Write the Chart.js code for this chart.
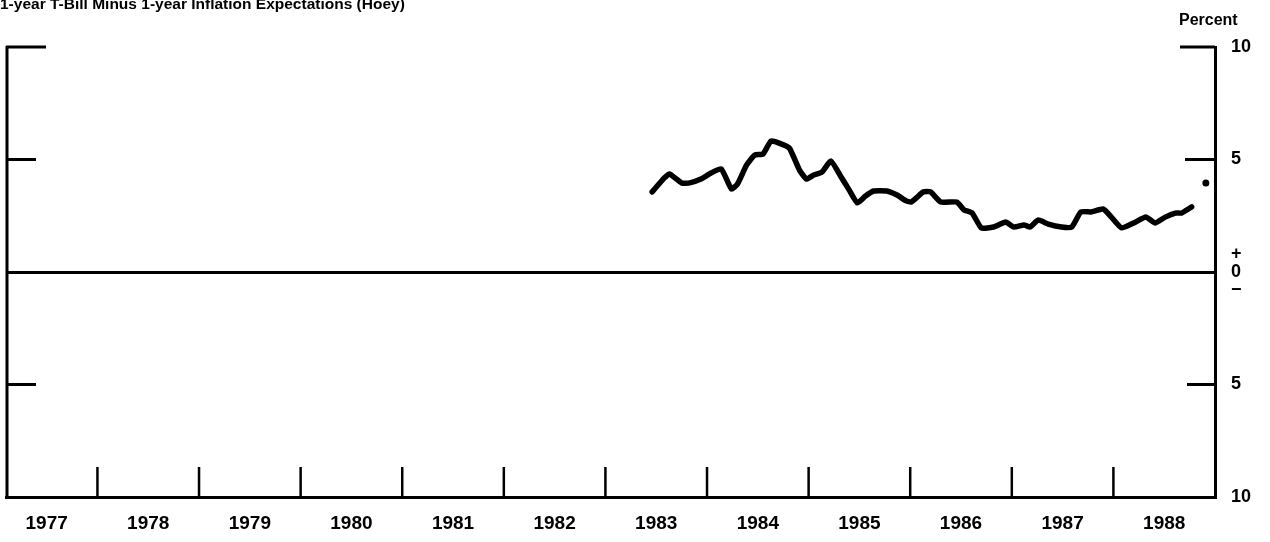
<!DOCTYPE html>
<html>
<head>
<meta charset="utf-8">
<script src="https://cdn.jsdelivr.net/npm/chart.js@4.4.0/dist/chart.umd.min.js"></script>
<style>
  body { margin: 0; background: #fff; }
  #wrap { position: relative; width: 1270px; height: 542px; overflow: hidden; font-family: "Liberation Sans", Arial, sans-serif; }
  #title { position: absolute; left: 0; top: -5px; font-weight: bold; font-size: 15.5px; white-space: nowrap; }
  #unit { position: absolute; left: 1179px; top: 11px; font-weight: bold; font-size: 16px; }
  canvas { position: absolute; left: 0; top: 0; }
</style>
</head>
<body>
<div id="wrap">
  <canvas id="grafico" width="1270" height="542"></canvas>
  <div id="title">1-year T-Bill Minus 1-year Inflation Expectations (Hoey)</div>
  <div id="unit">Percent</div>
</div>
<script>
const years = [1977, 1978, 1979, 1980, 1981, 1982, 1983, 1984, 1985, 1986, 1987, 1988];
const yTickValues = [10, 5, 0, -5, -10];
const yTickText = ["10", "5", ["+", "0", "\u2212"], "5", "10"];

// fecha decimal y valor
const fechas = [
  1983.46, 1983.58, 1983.63, 1983.75, 1983.83, 1983.94, 1984.04, 1984.14, 1984.24, 1984.30,
  1984.39, 1984.47, 1984.55, 1984.63, 1984.71, 1984.81, 1984.91, 1984.98, 1985.05, 1985.13,
  1985.22, 1985.32, 1985.40, 1985.48, 1985.56, 1985.64, 1985.77, 1985.87, 1985.96, 1986.01,
  1986.06, 1986.13, 1986.20, 1986.30, 1986.46, 1986.53, 1986.61, 1986.70, 1986.82, 1986.94,
  1987.02, 1987.12, 1987.18, 1987.26, 1987.36, 1987.49, 1987.59, 1987.68, 1987.78, 1987.90,
  1987.98, 1988.08, 1988.20, 1988.32, 1988.41, 1988.51, 1988.61, 1988.67, 1988.77,
];
const valores = [
  3.56, 4.18, 4.36, 3.96, 3.96, 4.13, 4.40, 4.58, 3.69, 3.91,
  4.76, 5.20, 5.24, 5.82, 5.73, 5.51, 4.53, 4.13, 4.31, 4.44,
  4.93, 4.22, 3.64, 3.07, 3.38, 3.60, 3.60, 3.42, 3.16, 3.11,
  3.29, 3.56, 3.56, 3.11, 3.11, 2.76, 2.62, 1.96, 2.00, 2.22,
  2.00, 2.09, 2.00, 2.31, 2.13, 2.00, 2.00, 2.67, 2.67, 2.80,
  2.44, 1.96, 2.18, 2.44, 2.18, 2.44, 2.62, 2.62, 2.89,
];
const puntoFecha = [1988.91];
const puntoValor = [3.96];

const fuente = "'Liberation Sans', Arial, sans-serif";

// marcas internas de los ejes
const marcasPlugin = {
  id: "marcas",
  afterDraw(chart) {
    const { ctx, chartArea: a, scales } = chart;
    const x = scales.x, y = scales.y;
    ctx.save();
    ctx.strokeStyle = "#000";
    ctx.lineCap = "butt";
    // eje izquierdo
    ctx.lineWidth = 3;
    ctx.beginPath();
    ctx.moveTo(a.left + 1, a.top - 1);
    ctx.lineTo(a.left + 1, a.bottom + 1);
    ctx.stroke();
    const izq = { 10: 40, 5: 30, "-5": 30 };
    const der = { 10: 35, 5: 30, "-5": 28 };
    [10, 5, -5].forEach((v) => {
      const py = y.getPixelForValue(v);
      ctx.beginPath();
      ctx.moveTo(a.left, py);
      ctx.lineTo(a.left + izq[v], py);
      ctx.moveTo(a.right, py);
      ctx.lineTo(a.right - der[v], py);
      ctx.stroke();
    });
    // marcas de los anios
    ctx.lineWidth = 2.5;
    years.slice(1).forEach((yr) => {
      const px = x.getPixelForValue(yr);
      ctx.beginPath();
      ctx.moveTo(px, a.bottom);
      ctx.lineTo(px, a.bottom - 30);
      ctx.stroke();
    });
    ctx.restore();
  },
};

new Chart(document.getElementById("grafico"), {
  type: "line",
  data: {
    datasets: [
      {
        data: fechas.map((f, i) => ({ x: f, y: valores[i] })),
        borderColor: "#000",
        borderWidth: 5.5,
        pointRadius: 0,
        tension: 0.15,
        borderJoinStyle: "round",
        borderCapStyle: "round",
      },
      {
        data: puntoFecha.map((f, i) => ({ x: f, y: puntoValor[i] })),
        showLine: false,
        pointRadius: 3.5,
        pointBackgroundColor: "#000",
        pointBorderWidth: 0,
      },
    ],
  },
  options: {
    responsive: false,
    animation: false,
    layout: { padding: { left: 6, top: 47, right: 0, bottom: 0 } },
    plugins: { legend: { display: false }, tooltip: { enabled: false } },
    scales: {
      x: {
        type: "linear",
        min: 1977.1,
        max: 1989,
        afterBuildTicks: (s) => { s.ticks = years.map((yr) => ({ value: yr + 0.5 })); },
        afterFit: (s) => { s.height = 45; },
        grid: { display: false },
        border: { display: true, color: "#000", width: 3 },
        ticks: {
          autoSkip: false,
          maxRotation: 0,
          padding: 7,
          color: "#000",
          font: { family: fuente, weight: "bold", size: 19 },
          callback: (v, i) => String(years[i]),
        },
      },
      y: {
        position: "right",
        min: -10,
        max: 10,
        afterBuildTicks: (s) => { s.ticks = yTickValues.map((v) => ({ value: v })); },
        afterFit: (s) => { s.width = 55; },
        grid: {
          drawTicks: false,
          color: (c) => (c.tick && c.tick.value === 0 ? "#000" : "rgba(0,0,0,0)"),
          lineWidth: 3,
        },
        border: { display: true, color: "#000", width: 3 },
        ticks: {
          padding: 16,
          color: "#000",
          font: { family: fuente, weight: "bold", size: 18, lineHeight: 1 },
          callback: (v, i) => yTickText[i],
        },
      },
    },
  },
  plugins: [marcasPlugin],
});
</script>
</body>
</html>
